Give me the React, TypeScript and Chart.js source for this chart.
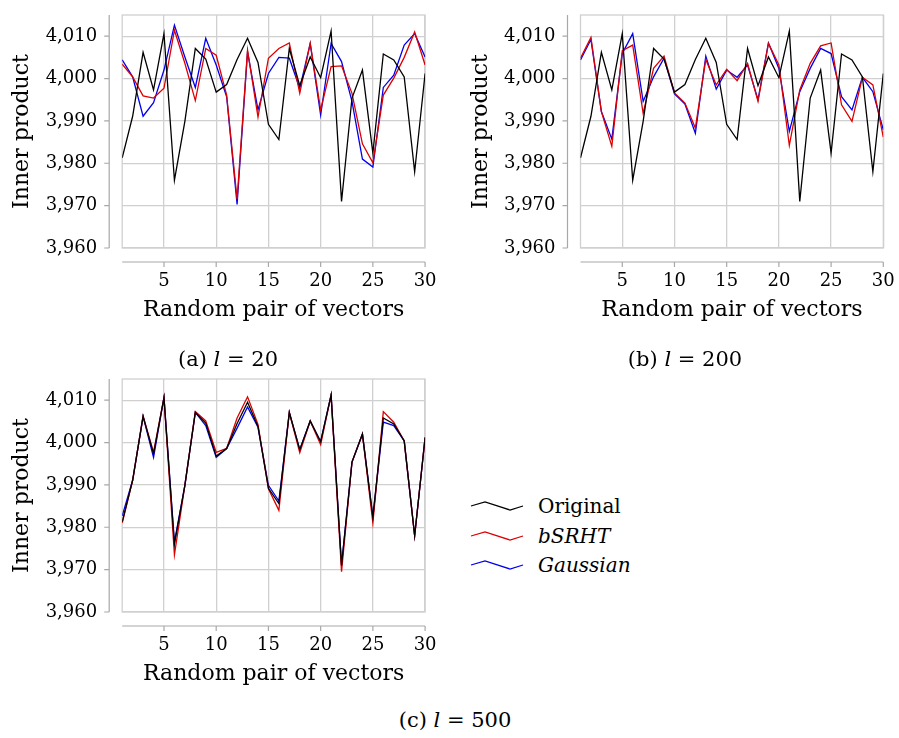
import React, { useEffect, useRef } from 'react';
import { Chart, registerables } from 'chart.js';

Chart.register(...registerables);

// ---------- data ----------
const pairs = [1, 2, 3, 4, 5, 6, 7, 8, 9, 10, 11, 12, 13, 14, 15, 16, 17, 18, 19, 20, 21, 22, 23, 24, 25, 26, 27, 28, 29, 30];

const original = [3981.3, 3991.1, 4006.2, 3997.3, 4010.6, 3976.0, 3989.9, 4007.1, 4004.6, 3996.8, 3998.6, 4004.5, 4009.5, 4003.8, 3989.2, 3985.6, 4007.1, 3998.3, 4005.1, 4000.2, 4011.2, 3971.0, 3995.4, 4002.0, 3982.4, 4005.8, 4004.4, 4000.4, 3978.0, 4001.2];

const bsrhtL20 = [4003.4, 4000.4, 3995.9, 3995.4, 3997.7, 4011.4, 4003.6, 3994.8, 4007.1, 4005.5, 3996.1, 3971.5, 4006.7, 3990.9, 4004.8, 4007.1, 4008.4, 3996.5, 4008.3, 3992.6, 4002.8, 4003.0, 3996.5, 3984.6, 3980.1, 3996.1, 4000.1, 4005.0, 4011.0, 4003.2];
const gaussL20 = [4004.4, 4000.4, 3991.1, 3994.3, 4002.0, 4012.6, 4005.1, 3997.9, 4009.5, 4003.2, 3995.7, 3970.3, 4006.3, 3992.6, 4001.2, 4005.0, 4004.8, 3997.7, 4008.3, 3991.4, 4008.3, 4004.0, 3994.6, 3981.0, 3979.1, 3997.9, 4000.8, 4007.9, 4010.6, 4005.1];

const bsrhtL200 = [4004.8, 4009.7, 3992.2, 3984.0, 4006.6, 4007.9, 3991.8, 4002.4, 4005.3, 3996.6, 3994.2, 3988.3, 4004.5, 3998.5, 4002.2, 3999.5, 4003.6, 3994.6, 4008.3, 4003.2, 3984.2, 3997.3, 4003.6, 4007.7, 4008.4, 3993.8, 3989.9, 4000.3, 3998.5, 3986.2];
const gaussL200 = [4004.4, 4009.2, 3992.2, 3985.7, 4005.9, 4010.6, 3994.6, 4000.4, 4004.8, 3996.4, 3994.0, 3987.1, 4005.3, 3997.5, 4002.0, 4000.3, 4003.2, 3995.0, 4008.4, 4002.4, 3987.5, 3996.9, 4002.4, 4007.1, 4005.9, 3995.7, 3992.6, 4000.3, 3996.9, 3987.9];

const bsrhtL500 = [3981.0, 3991.1, 4006.2, 3997.7, 4010.6, 3973.5, 3989.9, 4007.3, 4005.1, 3997.7, 3998.6, 4005.8, 4010.8, 4004.3, 3989.1, 3984.0, 4007.1, 3997.6, 4005.1, 3999.5, 4011.2, 3969.5, 3995.4, 4002.0, 3981.0, 4007.3, 4004.8, 4000.4, 3978.0, 4001.2];
const gaussL500 = [3982.7, 3991.1, 4006.2, 3996.5, 4010.6, 3976.5, 3989.9, 4007.1, 4004.0, 3996.5, 3998.6, 4003.4, 4008.4, 4003.6, 3989.9, 3986.2, 4007.1, 3998.3, 4005.1, 4000.2, 4011.2, 3971.1, 3995.4, 4002.0, 3982.4, 4004.8, 4004.0, 4000.4, 3978.0, 4001.2];

const xTicks = [5, 10, 15, 20, 25, 30];
const xTickLabels = ['5', '10', '15', '20', '25', '30'];
const yTicks = [3960, 3970, 3980, 3990, 4000, 4010];
const yTickLabels = ['3,960', '3,970', '3,980', '3,990', '4,000', '4,010'];
const seriesNames = ['Original', 'bSRHT', 'Gaussian'];

// ---------- style ----------
const FONT = '"DejaVu Serif", serif';
const BLACK = '#000000';
const RED = '#dd0000';
const BLUE = '#0000ee';
const GRID = '#d0d0d0';
const AXIS = '#a8a8a8';
const X_AXIS_HEIGHT = 82;
const seriesColors = [BLACK, RED, BLUE];

const axesPlugin = {
  id: 'detachedAxes',
  beforeDatasetsDraw(chart: any) {
    const { ctx, chartArea: a } = chart;
    ctx.save();
    ctx.strokeStyle = GRID;
    ctx.lineWidth = 1.3;
    ctx.strokeRect(a.left, a.top, a.right - a.left, a.bottom - a.top);
    ctx.restore();
  },
  afterDraw(chart: any) {
    const { ctx, chartArea: a, scales } = chart;
    const xs = scales.x;
    const ys = scales.y;
    ctx.save();
    ctx.strokeStyle = AXIS;
    ctx.lineWidth = 1.2;
    ctx.beginPath();
    const ax = a.left - 13;
    ctx.moveTo(ax, a.top);
    ctx.lineTo(ax, a.bottom);
    yTicks.forEach((v) => {
      const py = ys.getPixelForValue(v);
      ctx.moveTo(ax - 5, py);
      ctx.lineTo(ax, py);
    });
    const ay = a.bottom + 14;
    ctx.moveTo(a.left, ay);
    ctx.lineTo(a.right, ay);
    xTicks.forEach((v) => {
      const px = xs.getPixelForValue(v);
      ctx.moveTo(px, ay);
      ctx.lineTo(px, ay + 5);
    });
    ctx.stroke();
    ctx.restore();
  },
};

type Panel = {
  left: number;
  top: number;
  width: number;
  chartLeft: number;
  chartTop: number;
  chartRight: number;
  chartBottom: number;
  yTitlePad: number;
  series: number[][];
};

function PanelChart({ p }: { p: Panel }) {
  const ref = useRef<HTMLCanvasElement>(null);
  const height = p.chartBottom + X_AXIS_HEIGHT;
  useEffect(() => {
    const chart = new Chart(ref.current as HTMLCanvasElement, {
      type: 'line',
      data: {
        datasets: p.series.map((vals, k) => ({
          label: seriesNames[k],
          data: pairs.map((x, i) => ({ x, y: vals[i] })),
          borderColor: seriesColors[k],
          backgroundColor: seriesColors[k],
          borderWidth: 1.3,
          pointRadius: 0,
          tension: 0,
          fill: false,
        })),
      },
      options: {
        responsive: false,
        animation: false,
        devicePixelRatio: 1,
        layout: { padding: { left: 0, top: p.chartTop, right: p.width - p.chartRight, bottom: 0 } },
        plugins: { legend: { display: false }, tooltip: { enabled: false } },
        scales: {
          x: {
            type: 'linear',
            min: 1,
            max: 30,
            afterBuildTicks: (s: any) => {
              s.ticks = xTicks.map((v) => ({ value: v }));
            },
            afterFit: (s: any) => {
              s.height = X_AXIS_HEIGHT;
            },
            grid: { color: GRID, lineWidth: 1.3, drawTicks: true, tickLength: 22.5, tickColor: 'rgba(0,0,0,0)' },
            border: { display: false },
            ticks: {
              padding: 0,
              color: '#000',
              font: { family: FONT, size: 18 },
              maxRotation: 0,
              autoSkip: false,
              callback: (v: any) => xTickLabels[xTicks.indexOf(Number(v))],
            },
            title: {
              display: true,
              text: 'Random pair of vectors',
              color: '#000',
              font: { family: FONT, size: 22 },
              padding: { top: 0, bottom: 6.3 },
            },
          },
          y: {
            type: 'linear',
            min: 3960,
            max: 4015,
            afterBuildTicks: (s: any) => {
              s.ticks = yTicks.map((v) => ({ value: v }));
            },
            afterFit: (s: any) => {
              s.width = p.chartLeft;
            },
            grid: { color: GRID, lineWidth: 1.3, drawTicks: true, tickLength: 25, tickColor: 'rgba(0,0,0,0)' },
            border: { display: false },
            ticks: {
              padding: 0,
              color: '#000',
              font: { family: FONT, size: 18 },
              autoSkip: false,
              callback: (v: any) => yTickLabels[yTicks.indexOf(Number(v))],
            },
            title: {
              display: true,
              text: 'Inner product',
              color: '#000',
              font: { family: FONT, size: 22 },
              padding: { top: p.yTitlePad, bottom: 0 },
            },
          },
        },
      } as any,
      plugins: [axesPlugin],
    });
    return () => chart.destroy();
  }, []);
  return (
    <canvas
      ref={ref}
      width={p.width}
      height={height}
      style={{ position: 'absolute', left: p.left, top: p.top, width: p.width, height }}
    />
  );
}

const panels: Panel[] = [
  { left: 0, top: 0, width: 450, chartLeft: 122.2, chartTop: 15, chartRight: 425.1, chartBottom: 248, yTitlePad: 8.8, series: [original, bsrhtL20, gaussL20] },
  { left: 460, top: 0, width: 439, chartLeft: 120.5, chartTop: 15, chartRight: 423.3, chartBottom: 248, yTitlePad: 7.8, series: [original, bsrhtL200, gaussL200] },
  { left: 0, top: 360, width: 450, chartLeft: 122.2, chartTop: 19, chartRight: 425.1, chartBottom: 252, yTitlePad: 8.8, series: [original, bsrhtL500, gaussL500] },
];

const captions = [
  { tag: '(a)', val: '20', cx: 228, cy: 359 },
  { tag: '(b)', val: '200', cx: 685, cy: 359 },
  { tag: '(c)', val: '500', cx: 455, cy: 720 },
];

const legendRows = [
  { name: seriesNames[0], color: BLACK, italic: false, cy: 506 },
  { name: seriesNames[1], color: RED, italic: true, cy: 536 },
  { name: seriesNames[2], color: BLUE, italic: true, cy: 565 },
];

export default function App() {
  return (
    <div style={{ position: 'absolute', left: 0, top: 0, width: 899, height: 738, background: '#fff', overflow: 'hidden', fontFamily: FONT }}>
      {panels.map((p, i) => (
        <PanelChart key={i} p={p} />
      ))}
      {captions.map((c, i) => (
        <div
          key={i}
          style={{
            position: 'absolute',
            left: c.cx - 100,
            width: 200,
            top: c.cy - 15,
            height: 30,
            lineHeight: '30px',
            textAlign: 'center',
            fontSize: 21,
            color: '#000',
            whiteSpace: 'nowrap',
          }}
        >
          {c.tag} <i>l</i> = {c.val}
        </div>
      ))}
      {legendRows.map((r, i) => (
        <div
          key={i}
          style={{ position: 'absolute', left: 470, top: r.cy - 15, height: 30, display: 'flex', alignItems: 'center', whiteSpace: 'nowrap' }}
        >
          <svg width={54} height={12} style={{ display: 'block' }}>
            <polyline points="1,6 15,2 40,10 53,6" fill="none" stroke={r.color} strokeWidth={1.3} />
          </svg>
          <span style={{ marginLeft: 14, fontSize: 20, fontStyle: r.italic ? 'italic' : 'normal', color: '#000' }}>{r.name}</span>
        </div>
      ))}
    </div>
  );
}
